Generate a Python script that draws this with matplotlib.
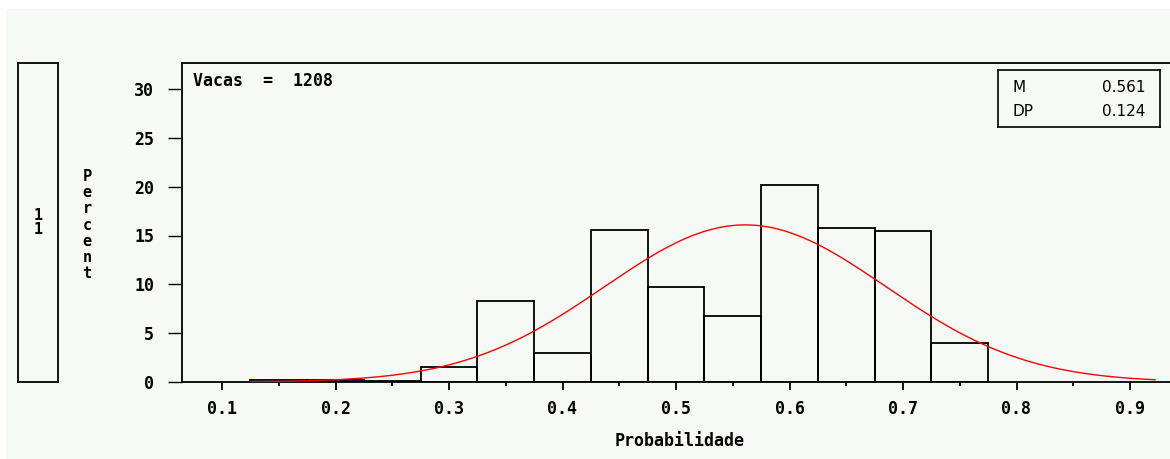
import numpy as np
import matplotlib
matplotlib.use("Agg")
import matplotlib.pyplot as plt
from matplotlib.patches import Rectangle

# Histogram data (percent per bin of width 0.05)
bin_mids = [0.15, 0.20, 0.25, 0.30, 0.35, 0.40, 0.45, 0.50, 0.55, 0.60, 0.65, 0.70, 0.75]
percent = [0.2, 0.2, 0.1, 1.5, 8.3, 3.0, 15.6, 9.7, 6.75, 20.2, 15.8, 15.5, 4.0]
bin_width = 0.05

# Fitted normal parameters
mu = 0.561
sd = 0.124
n_cows = 1208

x_ticks = [0.1, 0.2, 0.3, 0.4, 0.5, 0.6, 0.7, 0.8, 0.9]
y_ticks = [0, 5, 10, 15, 20, 25, 30]

W, H = 1170, 459
bg = "#f5faf7"
mono = "DejaVu Sans Mono"

fig = plt.figure(figsize=(W / 100, H / 100), dpi=100)
fig.patch.set_facecolor("white")

# light panel background
fig.add_artist(Rectangle((6 / W, 0), 1, 1 - 9 / H, transform=fig.transFigure,
                         facecolor=bg, edgecolor="none", zorder=-10))

# main axes (right side runs past the figure edge)
ax = fig.add_axes([182 / W, 1 - 382 / H, (1178 - 182) / W, (382 - 63) / H])
ax.set_facecolor(bg)

ax.bar(bin_mids, percent, width=bin_width, facecolor="none",
       edgecolor="black", linewidth=1.3, zorder=2)

xs = np.linspace(0.125, 0.922, 400)
curve = 100 * bin_width / (sd * np.sqrt(2 * np.pi)) * np.exp(-0.5 * ((xs - mu) / sd) ** 2)
ax.plot(xs, curve, color="red", linewidth=1.0, zorder=3)

px_per_unit = (1130 - 222) / 0.8
x_left = 0.1 - (222 - 182) / px_per_unit
x_right = 0.9 + (1178 - 1130) / px_per_unit
ax.set_xlim(x_left, x_right)
ax.set_ylim(0, 30 * (382 - 63) / (382 - 89))

ax.set_xticks(x_ticks)
ax.set_xticklabels([f"{t:.1f}" for t in x_ticks])
ax.set_xticks(np.array(x_ticks[:-1]) + 0.05, minor=True)
ax.set_yticks(y_ticks)
ax.tick_params(axis="x", which="major", direction="out", length=6, width=1.3, pad=7)
ax.tick_params(axis="x", which="minor", direction="out", length=3, width=1.3)
ax.tick_params(axis="y", direction="out", length=10, width=1.0, pad=10)
for lab in ax.get_xticklabels() + ax.get_yticklabels():
    lab.set_family(mono)
    lab.set_fontweight("bold")
    lab.set_fontsize(12)

for s in ax.spines.values():
    s.set_linewidth(1.3)
ax.spines["right"].set_visible(False)

ax.set_xlabel("Probabilidade", family=mono, fontweight="bold", fontsize=12, labelpad=10)

ax.text(193, H - 81, f"Vacas  =  {n_cows}", transform=None,
        family=mono, fontweight="bold", fontsize=12, va="center", ha="left")

# stats box
box_ax = fig.add_axes([998 / W, 1 - 127 / H, (1160 - 998) / W, (127 - 70) / H])
box_ax.set_xticks([])
box_ax.set_yticks([])
box_ax.set_facecolor(bg)
for s in box_ax.spines.values():
    s.set_linewidth(1.2)
box_ax.text(0.09, 0.69, "M", fontsize=11, va="center", ha="left", family="DejaVu Sans")
box_ax.text(0.91, 0.69, f"{mu:.3f}", fontsize=11, va="center", ha="right", family="DejaVu Sans")
box_ax.text(0.09, 0.27, "DP", fontsize=11, va="center", ha="left", family="DejaVu Sans")
box_ax.text(0.91, 0.27, f"{sd:.3f}", fontsize=11, va="center", ha="right", family="DejaVu Sans")

# left group panel
panel = fig.add_axes([18 / W, 1 - 382 / H, (58 - 18) / W, (382 - 63) / H])
panel.set_xticks([])
panel.set_yticks([])
panel.set_facecolor(bg)
for s in panel.spines.values():
    s.set_linewidth(1.3)
panel.text(0.5, 0.5, "1\n1", ha="center", va="center", family=mono,
           fontweight="bold", fontsize=11, linespacing=0.95)

# stacked y label
fig.text(87 / W, 1 - 225 / H, "\n".join("Percent"), ha="center", va="center",
         family=mono, fontweight="bold", fontsize=11, linespacing=1.1)

fig.savefig("out.png", dpi=100, facecolor=fig.get_facecolor())
